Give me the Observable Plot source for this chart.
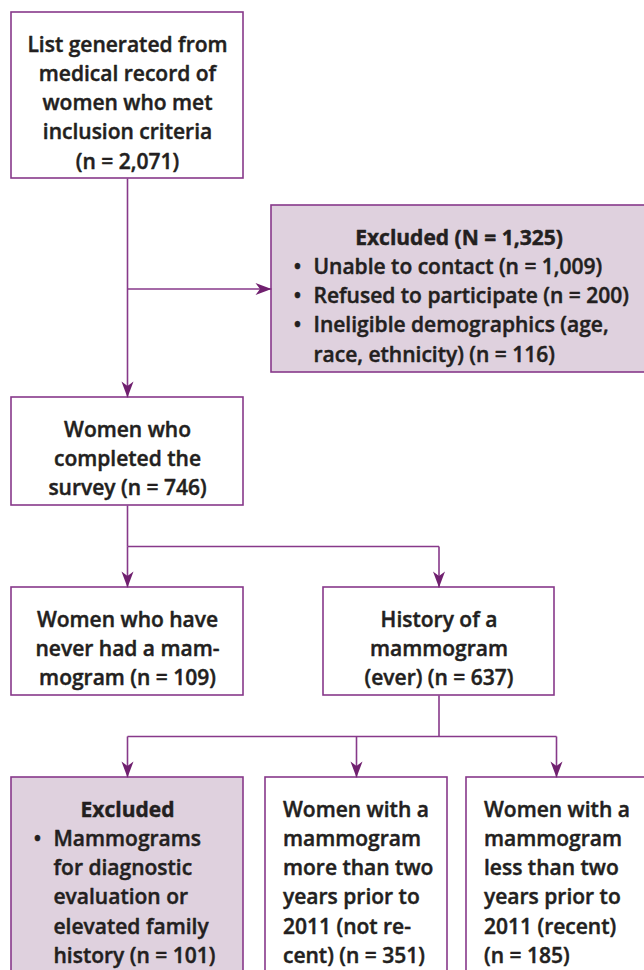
<!DOCTYPE html>
<html>
<head>
<meta charset="utf-8">
<script src="https://cdn.jsdelivr.net/npm/d3@7"></script>
<script src="https://cdn.jsdelivr.net/npm/@observablehq/plot@0.6"></script>
<style>
  html, body { margin: 0; padding: 0; background: #fff; overflow: hidden; }
  #chart svg { display: block; }
</style>
</head>
<body>
<div id="chart"></div>
<script>
// ---------- data ----------
const fmt = d3.format(",");
const boxIds   = ["start", "excluded", "survey", "never", "ever", "excludedDx", "notRecent", "recent"];
const boxKinds = ["plain", "shaded",   "plain",  "plain", "plain", "shaded",    "plain",     "plain"];
const nValues  = [2071, 1325, 746, 109, 637, 101, 351, 185];
const excludedReasonCounts = [1009, 200, 116];

const boxHeaders = {
  excluded: `Excluded (N = ${fmt(nValues[1])})`,
  excludedDx: "Excluded"
};
const boxLines = {
  start: ["List generated from", "medical record of", "women who met", "inclusion criteria", `(n = ${fmt(nValues[0])})`],
  survey: ["Women who", "completed the", `survey (n = ${fmt(nValues[2])})`],
  never: ["Women who have", "never had a mam-", `mogram (n = ${fmt(nValues[3])})`],
  ever: ["History of a", "mammogram", `(ever) (n = ${fmt(nValues[4])})`],
  notRecent: ["Women with a", "mammogram", "more than two", "years prior to", "2011 (not re-", `cent) (n = ${fmt(nValues[6])})`],
  recent: ["Women with a", "mammogram", "less than two", "years prior to", "2011 (recent)", `(n = ${fmt(nValues[7])})`]
};
const boxBullets = {
  excluded: [
    [`Unable to contact (n = ${fmt(excludedReasonCounts[0])})`],
    [`Refused to participate (n = ${fmt(excludedReasonCounts[1])})`],
    ["Ineligible demographics (age,", `race, ethnicity) (n = ${fmt(excludedReasonCounts[2])})`]
  ],
  excludedDx: [
    ["Mammograms", "for diagnostic", "evaluation or", "elevated family", `history (n = ${fmt(nValues[5])})`]
  ]
};
const flows = [
  ["start", "excluded", "side"],
  ["start", "survey", "down"],
  ["survey", "never", "down"],
  ["survey", "ever", "down"],
  ["ever", "excludedDx", "down"],
  ["ever", "notRecent", "down"],
  ["ever", "recent", "down"]
];

// ---------- layout (positions/styles, not data) ----------
const layout = {
  start:      {x1: 11,  x2: 243, y1: 12,  y2: 178, align: "middle"},
  excluded:   {x1: 271, x2: 646, y1: 205, y2: 372, align: "bullets"},
  survey:     {x1: 11,  x2: 243, y1: 397, y2: 505, align: "middle"},
  never:      {x1: 11,  x2: 243, y1: 587, y2: 695, align: "middle"},
  ever:       {x1: 323, x2: 554, y1: 587, y2: 695, align: "middle"},
  excludedDx: {x1: 11,  x2: 243, y1: 777, y2: 995, align: "bullets"},
  notRecent:  {x1: 265, x2: 447, y1: 777, y2: 995, align: "start"},
  recent:     {x1: 466, x2: 646, y1: 777, y2: 995, align: "start"}
};
const W = 644, H = 970;
const FS = 21, LH = 29.2;
const PAD_TOP = 18.5;
const purple = "#87398a", headColor = "#70206f", shade = "#dfd1de", ink = "#231f20";

// boxes table
const boxes = boxIds.map((id, i) => ({id, kind: boxKinds[i], ...layout[id]}));
const byId = Object.fromEntries(boxes.map(b => [b.id, b]));
const cx = b => (b.x1 + b.x2) / 2;

// text tables
const centered = [], leftText = [], headers = [], bulletDots = [];
for (const b of boxes) {
  let top = b.y1 + PAD_TOP;
  if (boxHeaders[b.id]) {
    headers.push({x: cx(b), y: top, text: boxHeaders[b.id]});
    top += LH;
  }
  if (b.align === "middle" && boxLines[b.id]) {
    centered.push({x: cx(b), y: top, text: boxLines[b.id].join("\n")});
  } else if (b.align === "start" && boxLines[b.id]) {
    leftText.push({x: b.x1 + 17.5, y: top, text: boxLines[b.id].join("\n")});
  } else if (b.align === "bullets") {
    for (const item of boxBullets[b.id]) {
      bulletDots.push({x: b.x1 + 26, y: top, text: "•"});
      leftText.push({x: b.x1 + 42, y: top, text: item.join("\n")});
      top += LH * item.length;
    }
  }
}

// connectors derived from box layout
const segments = [], heads = [];
const parents = d3.group(flows, f => f[0]);
for (const [pid, fl] of parents) {
  const p = byId[pid];
  const px = cx(p);
  const downs = fl.filter(f => f[2] === "down").map(f => byId[f[1]]);
  const sides = fl.filter(f => f[2] === "side").map(f => byId[f[1]]);
  if (downs.length === 1) {
    const c = downs[0];
    segments.push({x1: px, y1: p.y2, x2: px, y2: c.y1});
    heads.push({x: px, y: c.y1, r: 0});
  } else if (downs.length > 1) {
    const by = (p.y2 + downs[0].y1) / 2;
    segments.push({x1: px, y1: p.y2, x2: px, y2: by});
    const xs = downs.map(cx).concat([px]);
    segments.push({x1: d3.min(xs), y1: by, x2: d3.max(xs), y2: by});
    for (const c of downs) {
      segments.push({x1: cx(c), y1: by, x2: cx(c), y2: c.y1});
      heads.push({x: cx(c), y: c.y1, r: 0});
    }
  }
  for (const c of sides) {
    const sy = (c.y1 + c.y2) / 2;
    segments.push({x1: px, y1: sy, x2: c.x1, y2: sy});
    heads.push({x: c.x1, y: sy, r: -90});
  }
}

// notched arrowhead, tip at origin, pointing down
const arrowHead = {
  draw(ctx) {
    ctx.moveTo(0, 0);
    ctx.lineTo(-6, -16);
    ctx.lineTo(0, -11.5);
    ctx.lineTo(6, -16);
    ctx.closePath();
  }
};

const textCommon = {
  x: "x", y: "y", text: "text",
  lineAnchor: "top", lineHeight: LH / FS,
  fontSize: FS, fill: ink, stroke: ink, strokeWidth: 0.45,
  fontFamily: "'Open Sans', 'Liberation Sans', sans-serif"
};

const chart = Plot.plot({
  width: W, height: H,
  margin: 0,
  x: {domain: [0, W], range: [0, W], axis: null},
  y: {domain: [0, H], range: [0, H], axis: null},
  style: {background: "#fff", overflow: "hidden"},
  marks: [
    Plot.rect(boxes, {
      x1: "x1", x2: "x2", y1: "y1", y2: "y2",
      fill: d => d.kind === "shaded" ? shade : "#fff",
      stroke: purple, strokeWidth: 1.6, clip: true
    }),
    Plot.link(segments, {
      x1: "x1", y1: "y1", x2: "x2", y2: "y2",
      stroke: purple, strokeWidth: 1.6
    }),
    Plot.dot(heads, {
      x: "x", y: "y", rotate: "r",
      symbol: arrowHead, fill: headColor, stroke: "none", r: 6
    }),
    Plot.text(headers, {...textCommon, textAnchor: "middle", fontWeight: 700}),
    Plot.text(centered, {...textCommon, textAnchor: "middle", fontWeight: 600}),
    Plot.text(leftText, {...textCommon, textAnchor: "start", fontWeight: 600}),
    Plot.text(bulletDots, {...textCommon, textAnchor: "middle", fontWeight: 600})
  ]
});
document.getElementById("chart").appendChild(chart);
</script>
</body>
</html>
